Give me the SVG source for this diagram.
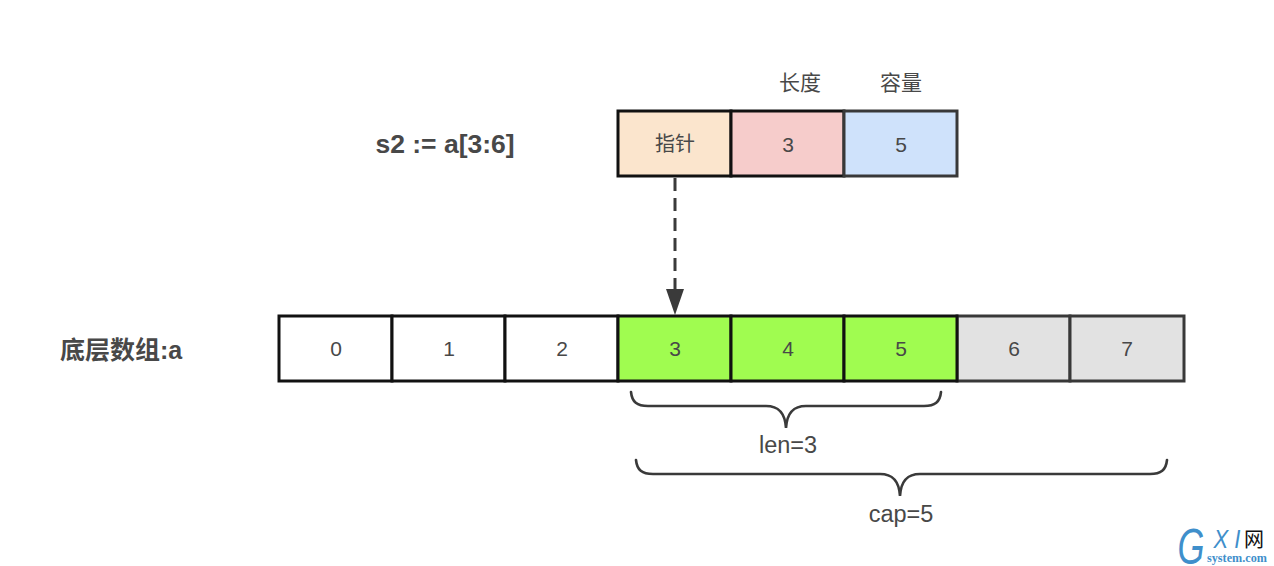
<svg xmlns="http://www.w3.org/2000/svg" width="1274" height="566" viewBox="0 0 1274 566">
<style>
text{font-family:"Liberation Sans","Noto Sans CJK SC",sans-serif;fill:#484848;text-anchor:middle}
.c{font-size:21px}
.l{font-size:23.5px}
.b{font-size:26px;font-weight:bold;fill:#484848}
.box{stroke:#111;stroke-width:3}
.gbox{stroke:#383838;stroke-width:3}
.brace{fill:none;stroke:#3a3a3a;stroke-width:2.6;stroke-linecap:round}
</style>
<rect width="1274" height="566" fill="#fff"/>
<g id="connectors">
<path d="M675 178V290" fill="none" stroke="#3a3a3a" stroke-width="3" stroke-dasharray="13 7"/>
<path d="M666 289H684L675 315Z" fill="#3a3a3a"/>
<path class="brace" d="M631 392C632 402 637 406 648 406H766C778 406 785 412 786 428C787 412 794 406 806 406H924C935 406 940 402 941 392"/>
<path class="brace" d="M636 460C637 470 642 474 653 474H880C892 474 899 480 900 496C901 480 908 474 920 474H1150C1161 474 1166 470 1167 460"/>
</g>
<g id="label-len-header"><text class="c" x="800" y="90">长度</text></g>
<g id="label-cap-header"><text class="c" x="901" y="90">容量</text></g>
<g id="label-s2"><text class="b" x="445" y="153" style="font-size:26.5px">s2 := a[3:6]</text></g>
<g id="label-array"><text class="b" x="121" y="359" style="font-size:25px">底层数组:a</text></g>
<g id="slice-ptr"><rect class="box" x="618" y="111" width="113" height="65" fill="#fbe5cd"/><text class="c" x="675" y="151" style="font-size:20px">指针</text></g>
<g id="slice-len"><rect class="box" x="731" y="111" width="113" height="65" fill="#f6cccb"/><text class="c" x="788" y="152">3</text></g>
<g id="slice-cap"><rect class="gbox" x="844" y="111" width="113" height="65" fill="#cfe2fb"/><text class="c" x="901" y="152">5</text></g>
<g id="cell-6"><rect class="gbox" x="957" y="316" width="113" height="65" fill="#e2e2e2"/><text class="c" x="1014" y="356">6</text></g>
<g id="cell-7"><rect class="gbox" x="1070" y="316" width="114" height="65" fill="#e2e2e2"/><text class="c" x="1127" y="356">7</text></g>
<g id="cell-0"><rect class="box" x="279" y="316" width="113" height="65" fill="#fff"/><text class="c" x="336" y="356">0</text></g>
<g id="cell-1"><rect class="box" x="392" y="316" width="113" height="65" fill="#fff"/><text class="c" x="449" y="356">1</text></g>
<g id="cell-2"><rect class="box" x="505" y="316" width="113" height="65" fill="#fff"/><text class="c" x="562" y="356">2</text></g>
<g id="cell-3"><rect class="box" x="618" y="316" width="113" height="65" fill="#a0fc50"/><text class="c" x="675" y="356">3</text></g>
<g id="cell-4"><rect class="box" x="731" y="316" width="113" height="65" fill="#a0fc50"/><text class="c" x="788" y="356">4</text></g>
<g id="cell-5"><rect class="box" x="844" y="316" width="113" height="65" fill="#a0fc50"/><text class="c" x="901" y="356">5</text></g>
<g id="label-len"><text class="l" x="788" y="453">len=3</text></g>
<g id="label-cap"><text class="l" x="901" y="522">cap=5</text></g>
<g id="watermark">
<text x="1191" y="564" textLength="27" lengthAdjust="spacingAndGlyphs" style="font-size:50px;fill:#3f8fcb;font-style:italic">G</text>
<text x="1227" y="548" textLength="27" lengthAdjust="spacingAndGlyphs" style="font-size:25px;fill:#3f8fcb;font-style:italic">X I</text>
<text x="1254" y="547" style="font-size:20px;fill:#111">网</text>
<text x="1237" y="562" textLength="60" lengthAdjust="spacingAndGlyphs" style="font-size:12px;font-weight:bold;fill:#3f8fcb;font-family:'Liberation Serif',serif">system.com</text>
</g>
</svg>
